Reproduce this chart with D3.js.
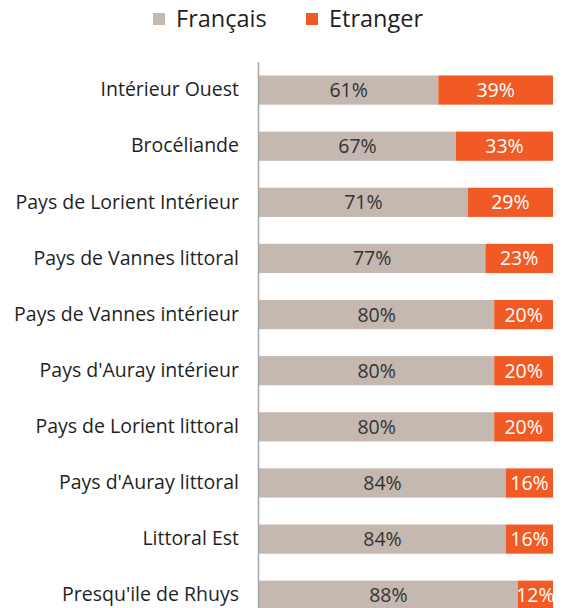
<!DOCTYPE html>
<html>
<head>
<script src="https://d3js.org/d3.v7.min.js"></script>
<style>
  body { margin: 0; background: #fff; }
  svg text { font-family: "Open Sans", "DejaVu Sans", sans-serif; }
</style>
</head>
<body>
<div id="chart"></div>
<script>
// categories, top to bottom
var zones = ["Intérieur Ouest", "Brocéliande", "Pays de Lorient Intérieur",
  "Pays de Vannes littoral", "Pays de Vannes intérieur", "Pays d'Auray intérieur",
  "Pays de Lorient littoral", "Pays d'Auray littoral", "Littoral Est", "Presqu'ile de Rhuys"];
var francais = [61, 67, 71, 77, 80, 80, 80, 84, 84, 88];
var etranger = [39, 33, 29, 23, 20, 20, 20, 16, 16, 12];
var seriesNames = ["Français", "Etranger"];
var colors = ["#c4b8b0", "#f15a24"];

var width = 563, height = 608;

var svg = d3.select("#chart").append("svg")
    .attr("width", width)
    .attr("height", height);

var x = d3.scaleLinear().domain([0, 100]).range([259, 553]);
var y = d3.scaleBand().domain(zones).range([62, 623.3])
    .paddingInner(0.48).paddingOuter(0.24);

var rows = zones.map(function(z, i) {
  return {zone: z, f: francais[i], e: etranger[i]};
});

// Français segments
svg.selectAll(".fr").data(rows).enter().append("rect")
    .attr("x", x(0))
    .attr("y", d => y(d.zone))
    .attr("width", d => x(d.f) - x(0))
    .attr("height", y.bandwidth())
    .attr("fill", colors[0]);

// Etranger segments
svg.selectAll(".et").data(rows).enter().append("rect")
    .attr("x", d => x(d.f))
    .attr("y", d => y(d.zone))
    .attr("width", d => x(d.f + d.e) - x(d.f))
    .attr("height", y.bandwidth())
    .attr("fill", colors[1]);

// value labels
svg.selectAll(".frl").data(rows).enter().append("text")
    .attr("x", d => (x(0) + x(d.f)) / 2)
    .attr("y", d => y(d.zone) + y.bandwidth() / 2)
    .attr("dy", "0.36em")
    .attr("text-anchor", "middle")
    .attr("fill", "#333333")
    .style("font-size", "19.5px")
    .text(d => d.f + "%");

svg.selectAll(".etl").data(rows).enter().append("text")
    .attr("x", d => (x(d.f) + x(d.f + d.e)) / 2)
    .attr("y", d => y(d.zone) + y.bandwidth() / 2)
    .attr("dy", "0.36em")
    .attr("text-anchor", "middle")
    .attr("fill", "#ffffff")
    .style("font-size", "19.5px")
    .text(d => d.e + "%");

// category axis
var yAxis = svg.append("g")
    .attr("transform", "translate(" + x(0) + ",0)")
    .call(d3.axisLeft(y).tickSize(0).tickPadding(20));
yAxis.select(".domain").remove();
yAxis.selectAll("text")
    .attr("fill", "#1f1f1f")
    .style("font-size", "19.5px")
    .style("font-family", '"Open Sans", sans-serif');

svg.append("line")
    .attr("x1", x(0) - 0.5).attr("x2", x(0) - 0.5)
    .attr("y1", 62).attr("y2", height)
    .attr("stroke", "#a6a6a6")
    .attr("stroke-width", 1.5);

// legend
var legendX = [153, 306];
var legend = svg.selectAll(".leg").data(seriesNames).enter().append("g")
    .attr("transform", (d, i) => "translate(" + legendX[i] + ",13)");
legend.append("rect")
    .attr("width", 12).attr("height", 12)
    .attr("fill", (d, i) => colors[i]);
legend.append("text")
    .attr("x", 23).attr("y", 6)
    .attr("dy", "0.36em")
    .attr("fill", "#1f1f1f")
    .style("font-size", "23.5px")
    .text(d => d);
</script>
</body>
</html>
